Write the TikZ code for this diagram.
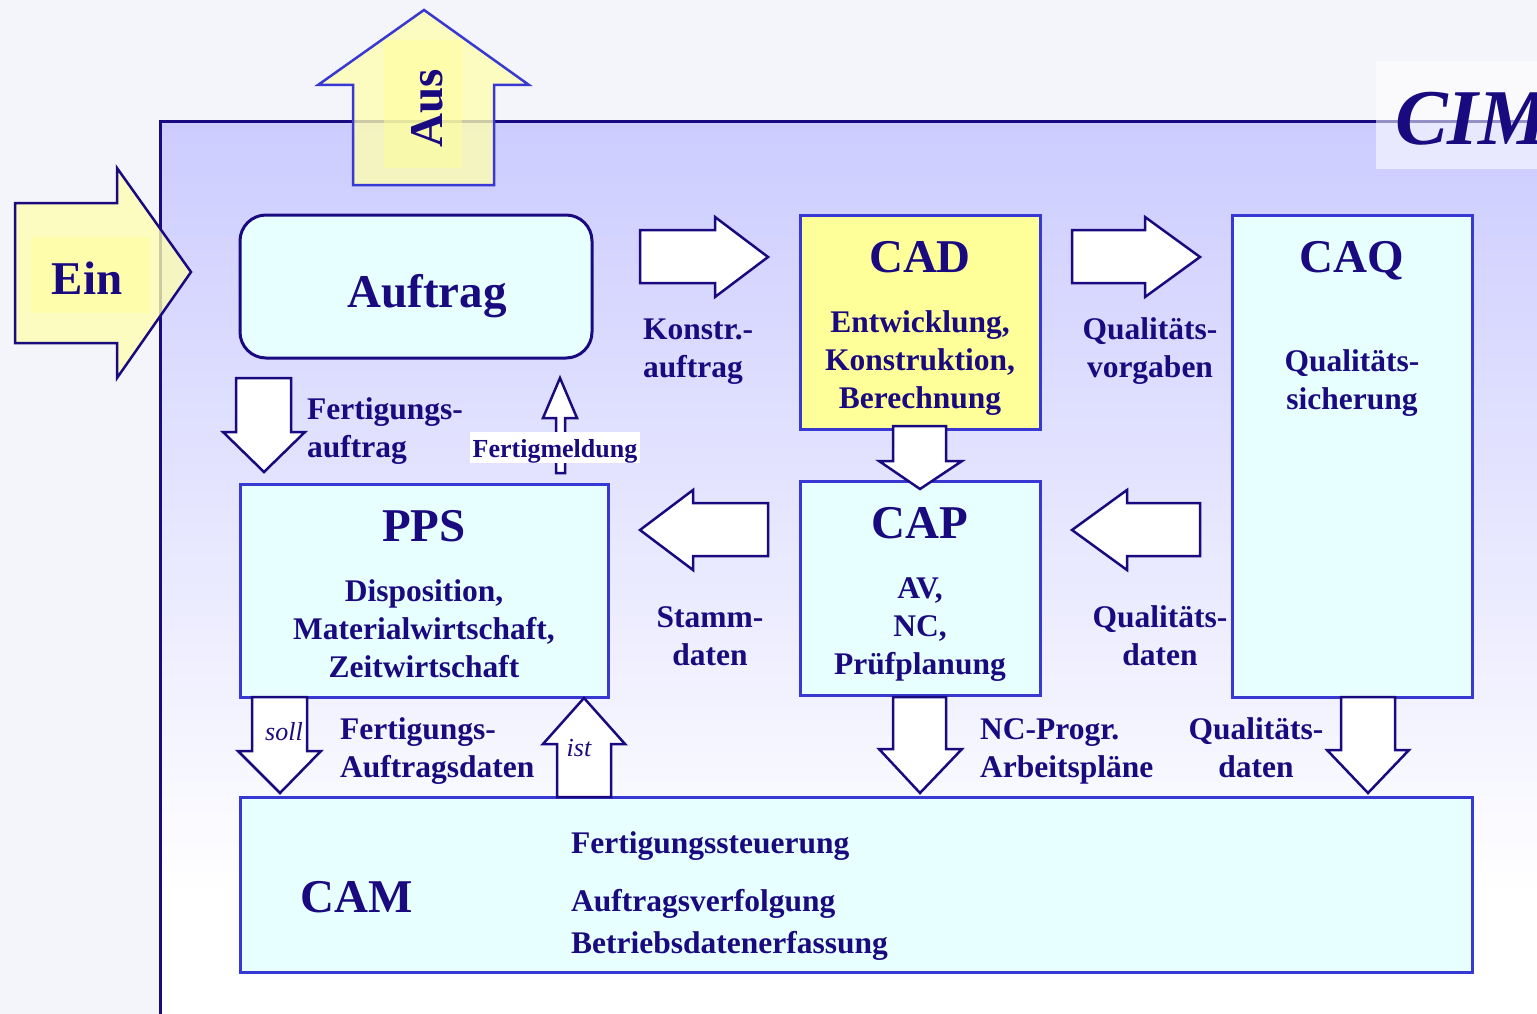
\documentclass[tikz,border=0pt]{standalone}
\usepackage{fontspec}
\setmainfont{Liberation Serif}
\definecolor{ink}{HTML}{1A0A80}
\definecolor{boxline}{HTML}{3838D2}
\definecolor{boxfill}{HTML}{E8FFFF}
\definecolor{cadfill}{HTML}{FFFF99}
\definecolor{paper}{HTML}{F4F5FA}
\definecolor{panel}{HTML}{CCCCFF}
\definecolor{inyellow}{HTML}{FFFFB0}
\definecolor{coreyellow}{HTML}{FFFF99}
\newcommand\titlefont{\fontsize{47}{52}\selectfont\bfseries}
\newcommand\labelfont{\fontsize{31.5}{38}\selectfont\bfseries}
\newcommand\notefont{\fontsize{26}{30}\selectfont\bfseries}
\newcommand\tagfont{\fontsize{26}{30}\selectfont\itshape}
\begin{document}
\begin{tikzpicture}[x=1pt,y=-1pt,
  module/.style={draw=boxline, line width=3pt, fill=boxfill, inner sep=0pt, outer sep=0pt,
    anchor=north west, rectangle},
  flow/.style={draw=ink, line width=2.5pt, fill=white, line join=miter},
  io/.style={line width=2.5pt, fill=inyellow, fill opacity=0.78, draw opacity=1},
  txt/.style={text=ink, inner sep=0pt, anchor=base},
  ltxt/.style={text=ink, inner sep=0pt, anchor=base west},
  % multi-line labels: anchored at the baseline of their last line
  ctxt/.style={text=ink, inner sep=0pt, anchor=base, align=center, font=\labelfont},
  lblock/.style={text=ink, inner sep=0pt, anchor=base west, align=left, font=\labelfont}]

% page and bounding box
\fill[paper] (0,0) rectangle (1537,1014);
\useasboundingbox (0,0) rectangle (1537,1014);

% CIM panel with vertical fade
\shade[top color=panel, bottom color=white] (160,122) rectangle (1537,895);
\fill[white] (160,895) rectangle (1537,1014);
\draw[ink, line width=3pt] (160,1014) -- (160,122) -- (1537,122);

% input arrow "Ein"
\path[io, draw=ink] (15,203) -- (117,203) -- (117,168) -- (191,272) -- (117,378)
  -- (117,343) -- (15,343) -- cycle;
\fill[coreyellow, opacity=0.5] (31,237) rectangle (150,313);
\node[txt] (ein) at (87,294) {\titlefont Ein};

% output arrow "Aus"
\path[io, draw=boxline] (424,10) -- (529,85) -- (494,85) -- (494,185) -- (353,185)
  -- (353,85) -- (318,85) -- cycle;
\fill[coreyellow, opacity=0.5] (384,40) rectangle (462,168);
\node[text=ink, inner sep=0pt, rotate=90] (aus) at (427,108) {\titlefont Aus};

% CIM label
\fill[white, opacity=0.55] (1376,61) rectangle (1537,169);
\node[ltxt] (cim) at (1395,145) {\fontsize{79}{90}\selectfont\bfseries\itshape CIM};

% modules
\node[draw=ink, line width=3pt, fill=boxfill, anchor=north west, rounded corners=26pt,
  minimum width=352pt, minimum height=143pt, inner sep=0pt, outer sep=0pt] (auftrag) at (240,215) {};
\node[module, fill=cadfill, minimum width=240pt, minimum height=214pt] (cad) at (800,215) {};
\node[module, minimum width=240pt, minimum height=482pt] (caq) at (1232,215) {};
\node[module, minimum width=368pt, minimum height=213pt] (pps) at (240,484) {};
\node[module, minimum width=240pt, minimum height=214pt] (cap) at (800,481) {};
\node[module, minimum width=1232pt, minimum height=175pt] (cam) at (240,797) {};

% flow arrows between the modules
\path[flow] (236,378) -- (291,378) -- (291,432) -- (305,432) -- (264,472) -- (223,432)
  -- (236,432) -- cycle;
\path[flow] (560,378) -- (577,418) -- (565,418) -- (565,473) -- (556,473) -- (556,418)
  -- (543,418) -- cycle;
\path[flow] (640,230) -- (715,230) -- (715,217) -- (768,257) -- (715,297) -- (715,283)
  -- (640,283) -- cycle;
\path[flow] (1072,230) -- (1145,230) -- (1145,217) -- (1200,257) -- (1145,297)
  -- (1145,283) -- (1072,283) -- cycle;
\path[flow] (768,503) -- (693,503) -- (693,490) -- (640,530) -- (693,570) -- (693,556)
  -- (768,556) -- cycle;
\path[flow] (1200,503) -- (1127,503) -- (1127,490) -- (1072,530) -- (1127,570)
  -- (1127,556) -- (1200,556) -- cycle;
\path[flow] (893,426) -- (946,426) -- (946,461) -- (962,461) -- (920,489) -- (879,461)
  -- (893,461) -- cycle;
\path[flow] (252,697) -- (307,697) -- (307,751) -- (321,751) -- (280,793) -- (238,751)
  -- (252,751) -- cycle;
\path[flow] (584,698) -- (625,744) -- (611,744) -- (611,797) -- (557,797) -- (557,744)
  -- (543,744) -- cycle;
\path[flow] (893,697) -- (946,697) -- (946,749) -- (962,749) -- (920,793) -- (879,749)
  -- (893,749) -- cycle;
\path[flow] (1341,697) -- (1395,697) -- (1395,750) -- (1409,750) -- (1368,793)
  -- (1327,750) -- (1341,750) -- cycle;

% module titles
\node[txt] at (427,307) {\titlefont Auftrag};
\node[txt] at (920,272) {\titlefont CAD};
\node[txt] at (1352,272) {\titlefont CAQ};
\node[txt] at (424,541) {\titlefont PPS};
\node[txt] at (920,538) {\titlefont CAP};
\node[ltxt] at (300,912) {\titlefont CAM};

% module contents
\node[ctxt] at (920,408) {Entwicklung,\\ Konstruktion,\\ Berechnung};
\node[ctxt] at (1352,409) {Qualitäts-\\ sicherung};
\node[ctxt] at (424,677) {Disposition,\\ Materialwirtschaft,\\ Zeitwirtschaft};
\node[ctxt] at (920,674) {AV,\\ NC,\\ Prüfplanung};
\node[ltxt] at (571,853) {\labelfont Fertigungssteuerung};
\node[ltxt] at (571,911) {\labelfont Auftragsverfolgung};
\node[ltxt] at (571,953) {\labelfont Betriebsdatenerfassung};

% flow labels
\node[lblock] at (643,377) {Konstr.-\\ auftrag};
\node[ctxt] at (1150,377) {Qualitäts-\\ vorgaben};
\node[lblock] at (307,457) {Fertigungs-\\ auftrag};
\node[ctxt] at (710,665) {Stamm-\\ daten};
\node[ctxt] at (1160,665) {Qualitäts-\\ daten};
\node[lblock] at (340,777) {Fertigungs-\\ Auftragsdaten};
\node[lblock] at (980,777) {NC-Progr.\\ Arbeitspläne};
\node[ctxt] at (1256,777) {Qualitäts-\\ daten};

% small labels
\fill[white] (470,432) rectangle (640,463);
\node[txt] at (555,457) {\notefont Fertigmeldung};
\node[txt] at (284,740) {\tagfont soll};
\node[txt] at (579,756) {\tagfont ist};
\end{tikzpicture}
\end{document}
